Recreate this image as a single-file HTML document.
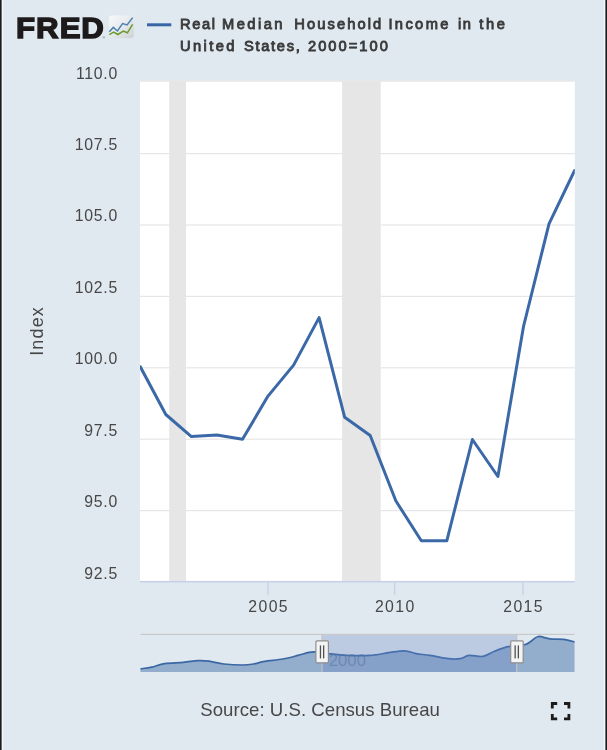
<!DOCTYPE html>
<html><head><meta charset="utf-8"><title>FRED</title>
<style>
html,body{margin:0;padding:0;background:#e1e9f0;}
body{width:607px;height:750px;overflow:hidden;}
svg{display:block;font-family:"Liberation Sans",sans-serif;}
.ax{font-size:15.8px;fill:#474747;letter-spacing:0.7px;}
.ttl{font-size:14.7px;fill:#3a3a3a;stroke:#3a3a3a;stroke-width:0.85px;}
</style></head><body>
<svg width="607" height="750" viewBox="0 0 607 750">
<defs>
<linearGradient id="ig" x1="0" y1="0" x2="1" y2="1"><stop offset="0" stop-color="#f6f8fa"/><stop offset="0.45" stop-color="#e9ecee"/><stop offset="1" stop-color="#cdd1d4"/></linearGradient>
<clipPath id="pc"><rect x="140" y="80.6" width="434.8" height="501"/></clipPath>
</defs>
<rect width="607" height="750" fill="#e1e9f0"/>
<!-- side borders -->
<rect x="0" y="0" width="1" height="750" fill="#1b1b1b"/><rect x="1" y="0" width="1" height="750" fill="#6a6c6e"/><rect x="2" y="0" width="1" height="750" fill="#f0f8fd"/><rect x="3" y="0" width="1" height="750" fill="#e3eaf3"/>
<rect x="606" y="0" width="1" height="750" fill="#1d1d1d"/><rect x="605" y="0" width="1" height="750" fill="#6c6e72"/><rect x="604" y="0" width="1" height="750" fill="#f1f8fe"/><rect x="603" y="0" width="1" height="750" fill="#e3ebf3"/>
<!-- logo -->
<text transform="translate(0,38) scale(1.07,1)" x="14.9 33.7 55.9 76" y="0" font-size="29.2" font-weight="bold" fill="#1d1a1b" stroke="#1d1a1b" stroke-width="1.4" stroke-linejoin="miter">FRED</text>
<text x="102.3" y="38.9" font-size="3.8" fill="#666">®</text>
<rect x="109" y="15.6" width="24.8" height="22.6" rx="3" fill="url(#ig)"/>
<polyline points="109.3,31.7 113.3,27.4 117.4,31 122.6,23.6 127.1,25 132.6,17.6" fill="none" stroke="#4d80ae" stroke-width="1.5"/>
<polyline points="109.3,34.7 113.7,32.1 117.8,34.5 123.3,31 127.4,32.8 132.6,24.3" fill="none" stroke="#6a9a32" stroke-width="1.5"/>
<!-- legend -->
<rect x="147" y="23.3" width="24.3" height="3" fill="#3765a5"/>
<text class="ttl"><tspan x="180.03" y="28.8" style="letter-spacing:1.57px">Real</tspan> <tspan x="222.03" y="28.8" style="letter-spacing:2.47px">Median</tspan> <tspan x="294.32" y="28.8" style="letter-spacing:2.09px">Household</tspan> <tspan x="388.43" y="28.8" style="letter-spacing:2.37px">Income</tspan> <tspan x="457.9" y="28.8" style="letter-spacing:1.7px">in</tspan> <tspan x="479.2" y="28.8" style="letter-spacing:2.65px">the</tspan> <tspan x="180.03" y="50.7" style="letter-spacing:2.39px">United</tspan> <tspan x="244.03" y="50.7" style="letter-spacing:1.67px">States,</tspan> <tspan x="307.93" y="50.7" style="letter-spacing:2.04px">2000=100</tspan></text>
<!-- plot -->
<rect x="140" y="81" width="434.8" height="500.4" fill="#ffffff"/>
<rect x="140" y="153.0" width="434.8" height="1.2" fill="#e6e6e6"/><rect x="140" y="224.4" width="434.8" height="1.2" fill="#e6e6e6"/><rect x="140" y="295.8" width="434.8" height="1.2" fill="#e6e6e6"/><rect x="140" y="367.2" width="434.8" height="1.2" fill="#e6e6e6"/><rect x="140" y="438.6" width="434.8" height="1.2" fill="#e6e6e6"/><rect x="140" y="510.0" width="434.8" height="1.2" fill="#e6e6e6"/><rect x="140" y="80.4" width="434.8" height="1.4" fill="#e9e9e9"/>
<rect x="169.2" y="80.6" width="16.8" height="500.8" fill="#e6e6e6"/>
<rect x="342.1" y="80.6" width="38.6" height="500.8" fill="#e6e6e6"/>
<rect x="140" y="580.9" width="434.8" height="1.6" fill="#c6d1e6"/>
<polyline clip-path="url(#pc)" points="140.3,366.8 165.8,414.5 191.4,436.6 216.9,435.0 242.5,439.3 268.0,396.1 293.6,365.1 319.1,317.6 344.7,417.3 370.2,435.5 395.8,500.8 421.3,540.8 446.8,540.8 472.4,439.5 497.9,476.5 523.5,326.5 549.0,223.9 574.6,170.5" fill="none" stroke="#3b69a7" stroke-width="3" stroke-linejoin="round" stroke-linecap="round"/>
<text x="117.9" y="78.7" text-anchor="end" class="ax">110.0</text><text x="117.9" y="150.1" text-anchor="end" class="ax">107.5</text><text x="117.9" y="221.4" text-anchor="end" class="ax">105.0</text><text x="117.9" y="292.9" text-anchor="end" class="ax">102.5</text><text x="117.9" y="364.2" text-anchor="end" class="ax">100.0</text><text x="117.9" y="435.6" text-anchor="end" class="ax">97.5</text><text x="117.9" y="507.1" text-anchor="end" class="ax">95.0</text><text x="117.9" y="578.5" text-anchor="end" class="ax">92.5</text>
<rect x="267.25" y="581.4" width="1.5" height="13.8" fill="#cad4e8"/><text x="268.7" y="611.6" text-anchor="middle" class="ax" style="letter-spacing:1.4px">2005</text><rect x="393.85" y="581.4" width="1.5" height="13.8" fill="#cad4e8"/><text x="395.3" y="611.6" text-anchor="middle" class="ax" style="letter-spacing:1.4px">2010</text><rect x="522.15" y="581.4" width="1.5" height="13.8" fill="#cad4e8"/><text x="523.6" y="611.6" text-anchor="middle" class="ax" style="letter-spacing:1.4px">2015</text>
<text transform="translate(43.4,355.8) rotate(-90)" font-size="18" fill="#474747" textLength="48.6" lengthAdjust="spacing">Index</text>
<!-- navigator -->
<text x="328.7" y="665.8" font-size="16.8" fill="#a2a2a2">2000</text>
<path d="M140.5,668.8 C142.4,668.5 147.7,668.1 151.7,667.2 C155.7,666.3 159.3,664.4 164.6,663.6 C169.8,662.8 177.6,662.9 183.2,662.4 C188.8,661.9 193.7,660.8 198.0,660.6 C202.3,660.4 204.7,660.6 209.0,661.2 C213.3,661.8 218.4,663.4 224.0,664.0 C229.6,664.6 237.6,665.0 242.5,665.0 C247.4,665.0 249.9,664.6 253.6,664.0 C257.3,663.4 259.8,662.1 264.7,661.3 C269.6,660.5 277.4,660.0 283.0,659.0 C288.6,658.0 293.7,656.5 298.0,655.4 C302.3,654.3 305.9,653.0 309.0,652.4 C312.1,651.8 313.4,651.8 316.6,652.0 C319.9,652.2 323.4,653.0 328.5,653.6 C333.6,654.2 340.1,655.1 347.0,655.4 C353.9,655.7 363.1,655.8 370.0,655.4 C376.9,655.0 382.6,653.5 388.4,652.7 C394.2,651.9 400.0,650.6 404.6,650.8 C409.2,650.9 411.8,652.8 416.0,653.6 C420.2,654.4 424.6,654.5 430.0,655.4 C435.4,656.2 443.4,658.2 448.4,658.7 C453.4,659.2 456.6,659.2 460.0,658.7 C463.4,658.2 465.2,655.8 469.0,655.4 C472.8,655.0 478.8,657.1 483.0,656.4 C487.2,655.7 490.3,652.9 494.5,651.3 C498.7,649.7 503.3,647.8 508.3,646.7 C513.3,645.6 520.6,645.8 524.5,644.8 C528.4,643.8 529.1,642.4 531.4,641.0 C533.7,639.6 535.2,636.9 538.3,636.5 C541.4,636.1 545.7,638.3 549.9,638.8 C554.1,639.3 559.6,638.8 563.7,639.3 C567.8,639.8 572.7,641.5 574.5,642.0 L574.5,671.9 L140.5,671.9 Z" fill="#4572a7" fill-opacity="0.5"/>
<path d="M140.5,668.8 C142.4,668.5 147.7,668.1 151.7,667.2 C155.7,666.3 159.3,664.4 164.6,663.6 C169.8,662.8 177.6,662.9 183.2,662.4 C188.8,661.9 193.7,660.8 198.0,660.6 C202.3,660.4 204.7,660.6 209.0,661.2 C213.3,661.8 218.4,663.4 224.0,664.0 C229.6,664.6 237.6,665.0 242.5,665.0 C247.4,665.0 249.9,664.6 253.6,664.0 C257.3,663.4 259.8,662.1 264.7,661.3 C269.6,660.5 277.4,660.0 283.0,659.0 C288.6,658.0 293.7,656.5 298.0,655.4 C302.3,654.3 305.9,653.0 309.0,652.4 C312.1,651.8 313.4,651.8 316.6,652.0 C319.9,652.2 323.4,653.0 328.5,653.6 C333.6,654.2 340.1,655.1 347.0,655.4 C353.9,655.7 363.1,655.8 370.0,655.4 C376.9,655.0 382.6,653.5 388.4,652.7 C394.2,651.9 400.0,650.6 404.6,650.8 C409.2,650.9 411.8,652.8 416.0,653.6 C420.2,654.4 424.6,654.5 430.0,655.4 C435.4,656.2 443.4,658.2 448.4,658.7 C453.4,659.2 456.6,659.2 460.0,658.7 C463.4,658.2 465.2,655.8 469.0,655.4 C472.8,655.0 478.8,657.1 483.0,656.4 C487.2,655.7 490.3,652.9 494.5,651.3 C498.7,649.7 503.3,647.8 508.3,646.7 C513.3,645.6 520.6,645.8 524.5,644.8 C528.4,643.8 529.1,642.4 531.4,641.0 C533.7,639.6 535.2,636.9 538.3,636.5 C541.4,636.1 545.7,638.3 549.9,638.8 C554.1,639.3 559.6,638.8 563.7,639.3 C567.8,639.8 572.7,641.5 574.5,642.0" fill="none" stroke="#3b67a4" stroke-width="1.7"/>
<rect x="322" y="634.4" width="194.7" height="37.5" fill="#6685c2" fill-opacity="0.3"/>
<rect x="140.5" y="633.8" width="434" height="1.2" fill="#c9c9c9"/>
<rect x="321.4" y="634" width="1.2" height="37.9" fill="#c4c4c4"/>
<rect x="516.1" y="634" width="1.2" height="37.9" fill="#c4c4c4"/>
<g><rect x="315.9" y="640.8" width="12.5" height="22" rx="1" fill="#f4f4f4" stroke="#8e8e8e" stroke-width="1.2"/>
<rect x="319.8" y="645.4" width="1.3" height="13" fill="#505050"/><rect x="323" y="645.4" width="1.3" height="13" fill="#505050"/></g>
<g><rect x="510.7" y="640.8" width="12.5" height="22" rx="1" fill="#f4f4f4" stroke="#8e8e8e" stroke-width="1.2"/>
<rect x="514.5" y="645.4" width="1.3" height="13" fill="#505050"/><rect x="517.7" y="645.4" width="1.3" height="13" fill="#505050"/></g>
<!-- source -->
<text x="200.3" y="716.4" font-size="18.6" fill="#474747" textLength="239.6" lengthAdjust="spacing">Source: U.S. Census Bureau</text>
<!-- fullscreen icon -->
<path d="M552.3,708.4 V703.5 H557.2 M564,703.5 H568.9 V708.4 M568.9,714 V718.9 H564 M557.2,718.9 H552.3 V714" fill="none" stroke="#1c1c1c" stroke-width="2.8"/>
</svg>
</body></html>
